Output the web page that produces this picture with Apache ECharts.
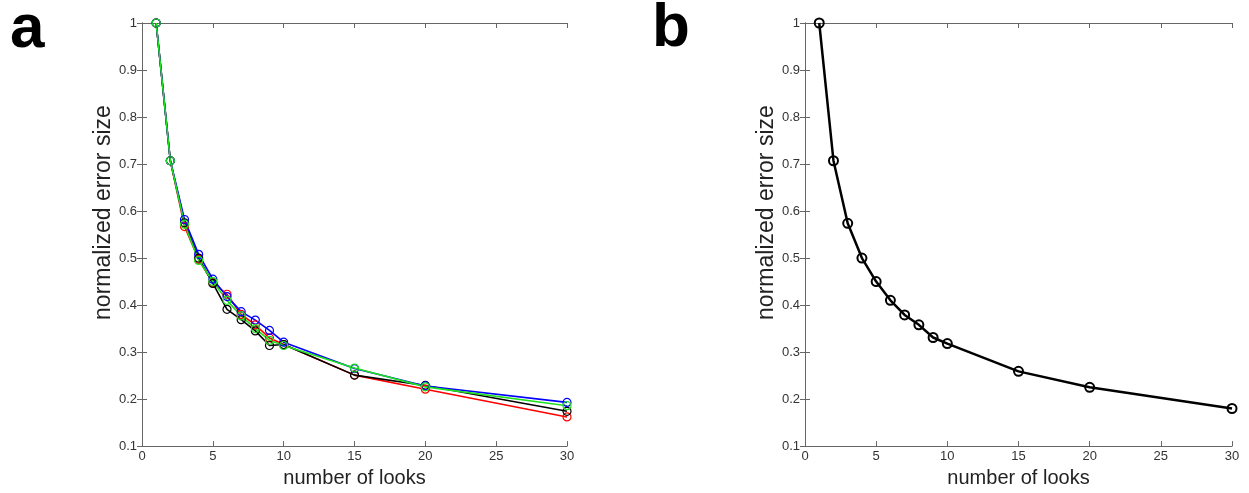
<!DOCTYPE html>
<html>
<head>
<meta charset="utf-8">
<script src="https://cdn.jsdelivr.net/npm/echarts@6/dist/echarts.min.js"></script>
<style>
  html, body { margin: 0; padding: 0; background: #fff; }
  #chart { width: 1249px; height: 493px; }
</style>
</head>
<body>
<div id="chart"></div>
<script>
// number of looks
const looks = [1, 2, 3, 4, 5, 6, 7, 8, 9, 10, 15, 20, 30];

// panel a: normalized error size for each run
const runRed   = [1, 0.707, 0.567, 0.497, 0.448, 0.423, 0.380, 0.358, 0.330, 0.316, 0.251, 0.221, 0.162];
const runBlack = [1, 0.707, 0.575, 0.500, 0.446, 0.391, 0.369, 0.345, 0.314, 0.316, 0.251, 0.229, 0.174];
const runBlue  = [1, 0.707, 0.582, 0.508, 0.455, 0.418, 0.386, 0.368, 0.346, 0.321, 0.265, 0.228, 0.193];
const runGreen = [1, 0.707, 0.572, 0.495, 0.450, 0.410, 0.377, 0.350, 0.325, 0.314, 0.266, 0.226, 0.186];

// panel b: combined curve
const combined = [1, 0.707, 0.574, 0.500, 0.450, 0.410, 0.379, 0.358, 0.331, 0.318, 0.259, 0.225, 0.180];

const xTicks = [0, 5, 10, 15, 20, 25, 30];
const yTicks = [0.1, 0.2, 0.3, 0.4, 0.5, 0.6, 0.7, 0.8, 0.9, 1];

const FONT = '"Liberation Sans", Arial, sans-serif';
const axisColor = '#666';

function pairs(vals) { return looks.map((x, i) => [x, vals[i]]); }

function mainX(gridIndex) {
  return {
    type: 'value', gridIndex, min: xTicks[0], max: xTicks[xTicks.length - 1], interval: 5,
    name: 'number of looks', nameLocation: 'middle', nameGap: 20,
    nameTextStyle: { fontFamily: FONT, fontSize: 20, color: '#222' },
    axisLine: { show: true, lineStyle: { color: axisColor, width: 1 } },
    axisTick: { show: true, inside: true, length: 5, lineStyle: { color: axisColor } },
    axisLabel: { fontFamily: FONT, fontSize: 13, color: '#333', margin: 4 },
    splitLine: { show: false }
  };
}
function boxX(gridIndex) {
  return {
    type: 'value', gridIndex, position: 'top', min: xTicks[0], max: xTicks[xTicks.length - 1], interval: 5,
    axisLine: { show: true, lineStyle: { color: axisColor, width: 1 } },
    axisTick: { show: true, inside: true, length: 5, lineStyle: { color: axisColor } },
    axisLabel: { show: false }, splitLine: { show: false }
  };
}
function mainY(gridIndex) {
  return {
    type: 'value', gridIndex, min: yTicks[0], max: yTicks[yTicks.length - 1], interval: 0.1,
    name: 'normalized error size', nameLocation: 'middle', nameGap: 27,
    nameTextStyle: { fontFamily: FONT, fontSize: 23, color: '#222', padding: [0, 0, 0, 44] },
    axisLine: { show: true, lineStyle: { color: axisColor, width: 1 } },
    axisTick: { show: true, inside: true, length: 5, lineStyle: { color: axisColor } },
    axisLabel: { fontFamily: FONT, fontSize: 13, color: '#333', margin: 5,
      formatter: v => String(Math.round(v * 10) / 10) },
    splitLine: { show: false }
  };
}
function boxY(gridIndex) {
  return {
    type: 'value', gridIndex, position: 'right', min: yTicks[0], max: yTicks[yTicks.length - 1], interval: 0.1,
    axisLine: { show: true, lineStyle: { color: axisColor, width: 1 } },
    axisTick: { show: true, inside: true, length: 5, lineStyle: { color: axisColor } },
    axisLabel: { show: false }, splitLine: { show: false }
  };
}

function runSeries(vals, color) {
  return {
    type: 'line', xAxisIndex: 0, yAxisIndex: 0, data: pairs(vals),
    symbol: 'circle', symbolSize: 8, showSymbol: true,
    lineStyle: { color, width: 1.6 },
    itemStyle: { color: 'rgba(255,255,255,0)', borderColor: color, borderWidth: 1.2 },
    emphasis: { disabled: true }, animation: false
  };
}

const chart = echarts.init(document.getElementById('chart'), null, { renderer: 'canvas' });
chart.setOption({
  animation: false,
  backgroundColor: '#fff',
  title: [
    { text: 'a', left: 5, top: -6, textStyle: { fontFamily: FONT, fontSize: 62, fontWeight: 'bold', color: '#000' } },
    { text: 'b', left: 647, top: -7, textStyle: { fontFamily: FONT, fontSize: 62, fontWeight: 'bold', color: '#000' } }
  ],
  grid: [
    { left: 142, top: 23, right: 682, bottom: 46 },
    { left: 805, top: 23, right: 17, bottom: 43 }
  ],
  xAxis: [mainX(0), boxX(0), mainX(1), boxX(1)],
  yAxis: [mainY(0), boxY(0), mainY(1), boxY(1)],
  series: [
    runSeries(runRed, '#ff0000'),
    runSeries(runBlack, '#000000'),
    runSeries(runBlue, '#0000ff'),
    runSeries(runGreen, '#1ee01e'),
    {
      type: 'line', xAxisIndex: 2, yAxisIndex: 2, data: pairs(combined),
      symbol: 'circle', symbolSize: 9, showSymbol: true,
      lineStyle: { color: '#000', width: 2.5 },
      itemStyle: { color: 'rgba(255,255,255,0)', borderColor: '#000', borderWidth: 2 },
      emphasis: { disabled: true }, animation: false
    }
  ]
});
</script>
</body>
</html>
